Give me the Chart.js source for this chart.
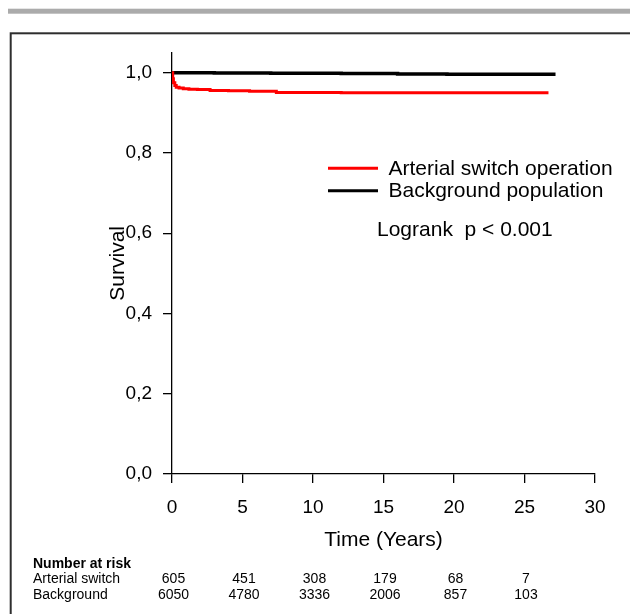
<!DOCTYPE html>
<html>
<head>
<meta charset="utf-8">
<style>
  html, body { margin: 0; padding: 0; background: #fff; }
  #wrap { width: 630px; height: 614px; }
</style>
<script src="https://cdn.jsdelivr.net/npm/chart.js@4/dist/chart.umd.min.js"></script>
</head>
<body>
<div id="wrap"><canvas id="km" width="630" height="614"></canvas></div>
<script>
// Kaplan-Meier survival estimates (time in years, cumulative survival)
const asoTimes = [0, 0.05, 0.1, 0.2, 0.3, 0.5, 0.8, 1.2, 1.8, 2.7, 4.0, 5.5, 7.4, 12.0, 26.7];
const asoSurvival = [1.0, 0.985, 0.975, 0.968, 0.964, 0.962, 0.960, 0.959, 0.958, 0.956, 0.955, 0.954, 0.951, 0.950, 0.950];

const bgTimes = [0, 3.0, 7.0, 12.0, 16.0, 19.5, 24.0, 27.2];
const bgSurvival = [1.0, 0.9995, 0.999, 0.998, 0.997, 0.996, 0.996, 0.996];

// Axis ticks
const xTicks = [0, 5, 10, 15, 20, 25, 30];
const yTicks = [0, 0.2, 0.4, 0.6, 0.8, 1.0];

// Number at risk table
const riskTimes = [0, 5, 10, 15, 20, 25];
const riskArterial = [605, 451, 308, 179, 68, 7];
const riskBackground = [6050, 4780, 3336, 2006, 857, 103];

const seriesNames = ['Arterial switch operation', 'Background population'];
const riskRowNames = ['Arterial switch', 'Background'];
const logrankText = 'Logrank  p < 0.001';

const FONT = '"Liberation Sans", Arial, sans-serif';

const toPoints = (xs, ys) => xs.map((x, i) => ({ x: x, y: ys[i] }));

// Page frame, legend, test result and risk table
const decorations = {
  id: 'decorations',
  beforeDraw(chart) {
    const ctx = chart.ctx;
    ctx.save();
    ctx.fillStyle = '#ffffff';
    ctx.fillRect(0, 0, chart.width, chart.height);
    ctx.fillStyle = '#ababab';
    ctx.fillRect(8, 8.7, 640, 5);
    ctx.strokeStyle = '#2e2e2e';
    ctx.lineWidth = 2;
    ctx.strokeRect(10.7, 33.3, 700, 700);
    ctx.restore();
  },
  afterDraw(chart) {
    const ctx = chart.ctx;
    const xs = chart.scales.x;
    ctx.save();
    // legend
    const colors = [chart.data.datasets[0].borderColor, chart.data.datasets[1].borderColor];
    const lineYs = [168.3, 190.7];
    const textYs = [175, 197];
    for (let i = 0; i < 2; i++) {
      ctx.strokeStyle = colors[i];
      ctx.lineWidth = 3;
      ctx.beginPath();
      ctx.moveTo(328, lineYs[i]);
      ctx.lineTo(378, lineYs[i]);
      ctx.stroke();
      ctx.fillStyle = '#000';
      ctx.font = '21px ' + FONT;
      ctx.textAlign = 'left';
      ctx.textBaseline = 'alphabetic';
      ctx.fillText(seriesNames[i], 388.5, textYs[i]);
    }
    ctx.fillText(logrankText, 377, 236);

    // number at risk
    ctx.fillStyle = '#000';
    ctx.textAlign = 'left';
    ctx.font = 'bold 14px ' + FONT;
    ctx.fillText('Number at risk', 33, 567.5);
    ctx.font = '14px ' + FONT;
    ctx.fillText(riskRowNames[0], 33, 583.3);
    ctx.fillText(riskRowNames[1], 33, 599);
    ctx.textAlign = 'center';
    riskTimes.forEach((t, i) => {
      const px = xs.getPixelForValue(t) + 1.5;
      ctx.fillText(String(riskArterial[i]), px, 583.3);
      ctx.fillText(String(riskBackground[i]), px, 599);
    });
    ctx.restore();
  }
};

new Chart(document.getElementById('km'), {
  type: 'line',
  data: {
    datasets: [
      {
        label: seriesNames[0],
        data: toPoints(asoTimes, asoSurvival),
        borderColor: '#ff0000',
        borderWidth: 3,
        pointRadius: 0,
        stepped: 'before',
        fill: false
      },
      {
        label: seriesNames[1],
        data: toPoints(bgTimes, bgSurvival),
        borderColor: '#000000',
        borderWidth: 3.5,
        pointRadius: 0,
        stepped: 'before',
        fill: false
      }
    ]
  },
  options: {
    responsive: false,
    animation: false,
    devicePixelRatio: 1,
    layout: { padding: { left: 100, top: 52.7, right: 35, bottom: 61.4 } },
    plugins: {
      legend: { display: false },
      tooltip: { enabled: false }
    },
    scales: {
      x: {
        type: 'linear',
        min: 0,
        max: 30,
        afterBuildTicks: s => { s.ticks = xTicks.map(v => ({ value: v })); },
        afterFit: s => { s.height = 78.6; },
        border: { display: true, color: '#000', width: 1.3 },
        grid: { display: true, drawOnChartArea: false, drawTicks: true, tickLength: 9, color: '#000', lineWidth: 1.3 },
        ticks: { color: '#000', font: { family: FONT, size: 19 }, padding: 13, maxRotation: 0 },
        title: { display: true, text: 'Time (Years)', color: '#000', font: { family: FONT, size: 21 }, padding: { top: 0, bottom: 0 } }
      },
      y: {
        type: 'linear',
        min: 0,
        max: 1.05,
        afterBuildTicks: s => { s.ticks = yTicks.map(v => ({ value: v })); },
        afterFit: s => { s.width = 72; },
        border: { display: true, color: '#000', width: 1.3 },
        grid: { display: true, drawOnChartArea: false, drawTicks: true, tickLength: 9, color: '#000', lineWidth: 1.3 },
        ticks: {
          color: '#000',
          font: { family: FONT, size: 19 },
          padding: 11,
          callback: v => v.toFixed(1).replace('.', ',')
        },
        title: { display: true, text: 'Survival', color: '#000', font: { family: FONT, size: 21 }, padding: { top: 5.4, bottom: 0 } }
      }
    }
  },
  plugins: [decorations]
});
</script>
</body>
</html>
